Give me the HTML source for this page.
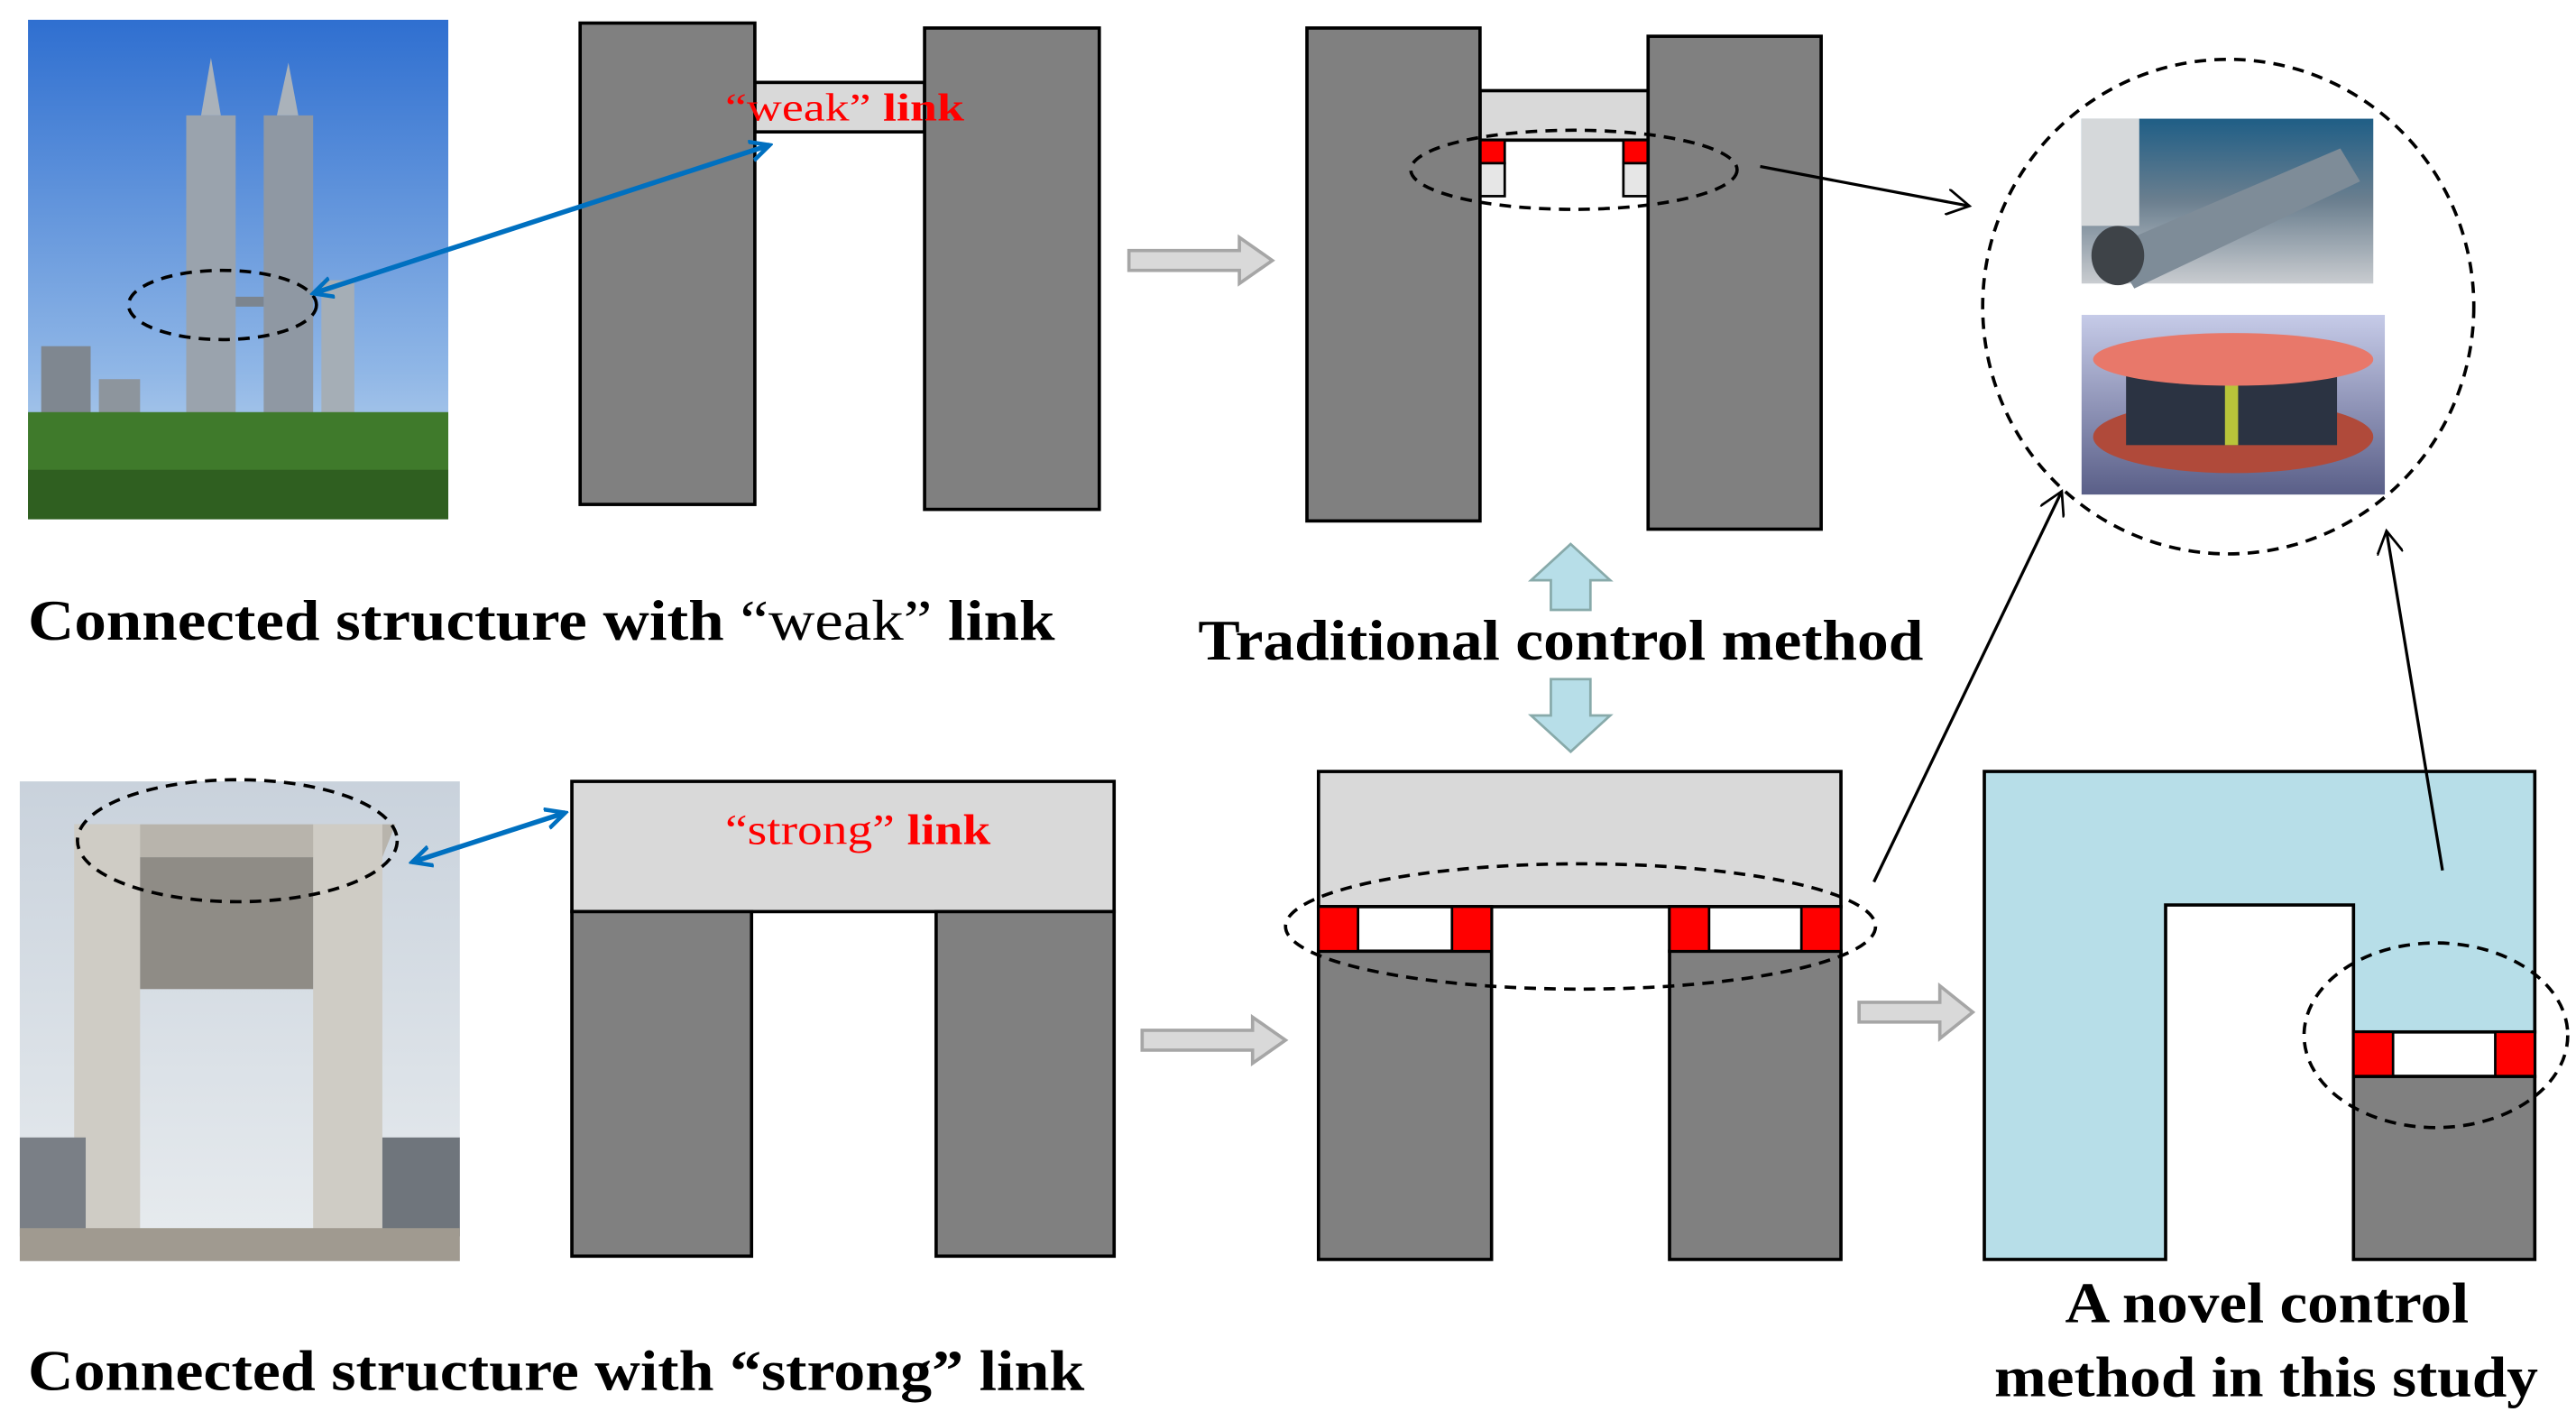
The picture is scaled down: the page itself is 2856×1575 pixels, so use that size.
<!DOCTYPE html>
<html><head><meta charset="utf-8"><style>
html,body{margin:0;padding:0;background:#fff;}
svg{display:block;}
text{font-family:"Liberation Serif",serif;}
</style></head><body>
<svg width="2856" height="1575" viewBox="0 0 1563 862" preserveAspectRatio="none" xmlns="http://www.w3.org/2000/svg">
<defs>
<linearGradient id="sky" x1="0" y1="0" x2="0" y2="1"><stop offset="0" stop-color="#2f6fd0"/><stop offset="0.7" stop-color="#8fb6e6"/><stop offset="1" stop-color="#c8dcef"/></linearGradient>
<linearGradient id="sky2" x1="0" y1="0" x2="0" y2="1"><stop offset="0" stop-color="#c9d2dc"/><stop offset="1" stop-color="#e8ecef"/></linearGradient>
<linearGradient id="cyl" x1="0" y1="0" x2="0" y2="1"><stop offset="0" stop-color="#1f5e86"/><stop offset="0.5" stop-color="#6b7f8f"/><stop offset="1" stop-color="#c9ccd0"/></linearGradient>
<linearGradient id="bear" x1="0" y1="0" x2="0" y2="1"><stop offset="0" stop-color="#c6cbe8"/><stop offset="1" stop-color="#5a5f88"/></linearGradient>
<marker id="ab" markerWidth="14" markerHeight="14" refX="12" refY="7" orient="auto-start-reverse" markerUnits="userSpaceOnUse"><path d="M0,1 L12,7 L0,13" fill="none" stroke="#0070c0" stroke-width="2.5"/></marker>
<marker id="ak" markerWidth="16" markerHeight="16" refX="14" refY="8" orient="auto" markerUnits="userSpaceOnUse"><path d="M0,0 L14,8 L0,16" fill="none" stroke="#000" stroke-width="1.5"/></marker>
</defs>

<!-- photo 1 -->
<rect x="17" y="12" width="255" height="303" fill="url(#sky)"/>
<rect x="113" y="70" width="30" height="210" fill="#9aa3ad"/>
<polygon points="122,70 128,35 134,70" fill="#aab2ba"/>
<rect x="160" y="70" width="30" height="210" fill="#8f98a3"/>
<polygon points="168,70 175,38 181,70" fill="#aab2ba"/>
<rect x="143" y="180" width="17" height="6" fill="#7c858f"/>
<rect x="25" y="210" width="30" height="70" fill="#7f8790"/>
<rect x="60" y="230" width="25" height="50" fill="#8d959d"/>
<rect x="195" y="170" width="20" height="110" fill="#a5aeb6"/>
<rect x="17" y="250" width="255" height="65" fill="#3f7a2b"/>
<rect x="17" y="285" width="255" height="30" fill="#2f5f20"/>
<ellipse cx="135" cy="185" rx="57" ry="21" fill="none" stroke="#000" stroke-width="2" stroke-dasharray="7,5"/>

<!-- weak link -->
<rect x="458" y="50" width="103" height="30" fill="#d9d9d9" stroke="#000" stroke-width="2"/>
<rect x="352" y="14" width="106" height="292" fill="#808080" stroke="#000" stroke-width="2"/>
<rect x="561" y="17" width="106" height="292" fill="#808080" stroke="#000" stroke-width="2"/>
<text x="440" y="73" font-size="24" textLength="145" lengthAdjust="spacingAndGlyphs" fill="#ff0000">“weak” <tspan font-weight="bold">link</tspan></text>
<line x1="190" y1="178" x2="467" y2="88" stroke="#0070c0" stroke-width="3" marker-start="url(#ab)" marker-end="url(#ab)"/>

<text x="17" y="388" font-size="35" textLength="623" lengthAdjust="spacingAndGlyphs" fill="#000"><tspan font-weight="bold">Connected structure with </tspan>“weak”<tspan font-weight="bold"> link</tspan></text>

<!-- gray arrows -->
<polygon points="685,152 752,152 752,144 772,158 752,172 752,164 685,164" fill="#d9d9d9" stroke="#a6a6a6" stroke-width="2"/>
<polygon points="693,625 760,625 760,617 780,631 760,645 760,637 693,637" fill="#d9d9d9" stroke="#a6a6a6" stroke-width="2"/>
<polygon points="1128,608 1177,608 1177,598 1197,614 1177,630 1177,620 1128,620" fill="#d9d9d9" stroke="#a6a6a6" stroke-width="2"/>

<!-- traditional top -->
<rect x="898" y="55" width="102" height="30" fill="#d9d9d9" stroke="#000" stroke-width="2"/>
<rect x="898" y="85" width="15" height="14" fill="#ff0000" stroke="#000" stroke-width="1.5"/>
<rect x="898" y="99" width="15" height="20" fill="#e6e6e6" stroke="#000" stroke-width="1.5"/>
<rect x="985" y="85" width="15" height="14" fill="#ff0000" stroke="#000" stroke-width="1.5"/>
<rect x="985" y="99" width="15" height="20" fill="#e6e6e6" stroke="#000" stroke-width="1.5"/>
<rect x="793" y="17" width="105" height="299" fill="#808080" stroke="#000" stroke-width="2"/>
<rect x="1000" y="22" width="105" height="299" fill="#808080" stroke="#000" stroke-width="2"/>
<ellipse cx="955" cy="103" rx="99" ry="24" fill="none" stroke="#000" stroke-width="2" stroke-dasharray="7,5"/>
<line x1="1068" y1="101" x2="1195" y2="125" stroke="#000" stroke-width="1.8" marker-end="url(#ak)"/>

<!-- circle with photos -->
<ellipse cx="1352" cy="186" rx="149" ry="150" fill="none" stroke="#000" stroke-width="2" stroke-dasharray="7,5"/>
<rect x="1263" y="72" width="177" height="100" fill="url(#cyl)"/>
<rect x="1263" y="72" width="35" height="65" fill="#d5d8da"/>
<polygon points="1280,150 1420,90 1432,110 1295,175" fill="#7e8c98"/>
<ellipse cx="1285" cy="155" rx="16" ry="18" fill="#3e4348"/>
<rect x="1263" y="191" width="184" height="109" fill="url(#bear)"/>
<ellipse cx="1355" cy="265" rx="85" ry="22" fill="#b04a3a"/>
<rect x="1290" y="225" width="128" height="45" fill="#2b3342"/>
<rect x="1350" y="225" width="8" height="45" fill="#b8c43a"/>
<ellipse cx="1355" cy="218" rx="85" ry="16" fill="#e8786a"/>

<!-- teal arrows -->
<polygon points="953,330 977,352 965,352 965,370 941,370 941,352 929,352" fill="#b7dee8" stroke="#8aa" stroke-width="1.5"/>
<polygon points="953,456 977,434 965,434 965,412 941,412 941,434 929,434" fill="#b7dee8" stroke="#8aa" stroke-width="1.5"/>
<text x="727" y="400" font-size="35" font-weight="bold" textLength="440" lengthAdjust="spacingAndGlyphs">Traditional control method</text>

<!-- photo 2 -->
<rect x="12" y="474" width="267" height="291" fill="url(#sky2)"/>
<polygon points="45,500 240,500 232,520 55,520" fill="#b8b4ac"/>
<rect x="45" y="500" width="40" height="250" fill="#cfccc5"/>
<rect x="190" y="500" width="42" height="250" fill="#cfccc5"/>
<rect x="85" y="520" width="105" height="80" fill="#8f8c86"/>
<rect x="12" y="690" width="40" height="60" fill="#7a7f86"/>
<rect x="232" y="690" width="47" height="60" fill="#6f757c"/>
<rect x="12" y="745" width="267" height="20" fill="#a09a90"/>
<ellipse cx="144" cy="510" rx="97" ry="37" fill="none" stroke="#000" stroke-width="2" stroke-dasharray="7,5"/>

<!-- strong link -->
<rect x="347" y="474" width="329" height="79" fill="#d9d9d9" stroke="#000" stroke-width="2"/>
<rect x="347" y="553" width="109" height="209" fill="#808080" stroke="#000" stroke-width="2"/>
<rect x="568" y="553" width="108" height="209" fill="#808080" stroke="#000" stroke-width="2"/>
<line x1="250" y1="523" x2="343" y2="493" stroke="#0070c0" stroke-width="3" marker-start="url(#ab)" marker-end="url(#ab)"/>
<text x="440" y="512" font-size="26" textLength="161" lengthAdjust="spacingAndGlyphs" fill="#ff0000">“strong” <tspan font-weight="bold">link</tspan></text>
<text x="17" y="843" font-size="35" font-weight="bold" textLength="641" lengthAdjust="spacingAndGlyphs" fill="#000">Connected structure with “strong” link</text>

<!-- bottom middle -->
<rect x="800" y="468" width="317" height="82" fill="#d9d9d9" stroke="#000" stroke-width="2"/>
<rect x="800" y="577" width="105" height="187" fill="#808080" stroke="#000" stroke-width="2"/>
<rect x="1013" y="577" width="104" height="187" fill="#808080" stroke="#000" stroke-width="2"/>
<rect x="800" y="550" width="105" height="27" fill="#fff" stroke="#000" stroke-width="2"/>
<rect x="1013" y="550" width="104" height="27" fill="#fff" stroke="#000" stroke-width="2"/>
<rect x="800" y="550" width="24" height="27" fill="#ff0000" stroke="#000" stroke-width="1.5"/>
<rect x="881" y="550" width="24" height="27" fill="#ff0000" stroke="#000" stroke-width="1.5"/>
<rect x="1013" y="550" width="24" height="27" fill="#ff0000" stroke="#000" stroke-width="1.5"/>
<rect x="1093" y="550" width="24" height="27" fill="#ff0000" stroke="#000" stroke-width="1.5"/>
<ellipse cx="959" cy="562" rx="179" ry="38" fill="none" stroke="#000" stroke-width="2" stroke-dasharray="7,5"/>
<line x1="1137" y1="535" x2="1251" y2="298" stroke="#000" stroke-width="1.8" marker-end="url(#ak)"/>

<!-- novel -->
<path d="M1204,468 H1538 V626 H1428 V549 H1314 V764 H1204 Z" fill="#b7dee8" stroke="#000" stroke-width="2"/>
<rect x="1428" y="626" width="110" height="27" fill="#fff" stroke="#000" stroke-width="2"/>
<rect x="1428" y="626" width="24" height="27" fill="#ff0000" stroke="#000" stroke-width="1.5"/>
<rect x="1514" y="626" width="24" height="27" fill="#ff0000" stroke="#000" stroke-width="1.5"/>
<rect x="1428" y="653" width="110" height="111" fill="#808080" stroke="#000" stroke-width="2"/>
<ellipse cx="1478" cy="628" rx="80" ry="56" fill="none" stroke="#000" stroke-width="2" stroke-dasharray="7,5"/>
<line x1="1482" y1="528" x2="1448" y2="322" stroke="#000" stroke-width="1.8" marker-end="url(#ak)"/>
<text x="1253" y="802" font-size="35" font-weight="bold" textLength="245" lengthAdjust="spacingAndGlyphs">A novel control</text>
<text x="1210" y="847" font-size="35" font-weight="bold" textLength="330" lengthAdjust="spacingAndGlyphs">method in this study</text>
</svg>
</body></html>
